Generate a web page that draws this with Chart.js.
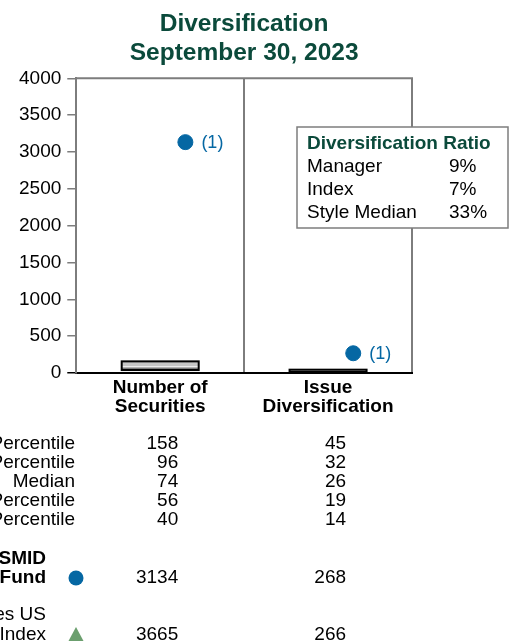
<!DOCTYPE html>
<html>
<head>
<meta charset="utf-8">
<script src="https://cdn.jsdelivr.net/npm/chart.js@4.4.0/dist/chart.umd.min.js"></script>
<style>
  html, body { margin: 0; padding: 0; background: #fff; }
  #wrap { width: 515px; height: 642px; }
</style>
</head>
<body>
<div id="wrap"><canvas id="chartDiversifikasi" width="515" height="642"></canvas></div>
<script>
// data
const categories = [['Number of', 'Securities'], ['Issue', 'Diversification']];
const pct95 = [158, 45];
const pct75 = [96, 32];
const median = [74, 26];
const pct25 = [56, 19];
const pct5 = [40, 14];
const fundValues = [3134, 268];
const indexValues = [3665, 266];
const fundNotes = ['(1)', '(1)'];
const yTicks = [0, 500, 1000, 1500, 2000, 2500, 3000, 3500, 4000];

const rowLabels = ['95th Percentile', '75th Percentile', 'Median', '25th Percentile', '5th Percentile'];
const fundLabel = ['SMID', 'Fund'];
const indexLabel = ['Dow Jones US', 'Index'];

const ratioTitle = 'Diversification Ratio';
const ratioLabels = ['Manager', 'Index', 'Style Median'];
const ratioValues = ['9%', '7%', '33%'];

const FONT = '"Liberation Sans", Arial, sans-serif';
const GREEN_DARK = '#0b4a3b';
const BLUE = '#0567a3';
const INDEX_GREEN = '#6b9f6e';
const FRAME = '#7d7d7d';
const DOT_OFFSET = 0.15;

const rows = [pct95, pct75, median, pct25, pct5];

// box segments: 5-25, 25-median, median-75, 75-95
function segment(lo, hi, color) {
    return {
        type: 'bar',
        data: lo.map((v, i) => [v, hi[i]]),
        backgroundColor: color,
        borderWidth: 0,
        grouped: false,
        maxBarThickness: 77,
        xAxisID: 'x',
        yAxisID: 'y'
    };
}

// frame top line, box outlines, notes next to dots
const frameNotes = {
    id: 'frameNotes',
    beforeDatasetsDraw(chart) {
        const { ctx, chartArea: a } = chart;
        ctx.save();
        ctx.strokeStyle = FRAME;
        ctx.lineWidth = 2;
        ctx.beginPath();
        ctx.moveTo(a.left - 1, a.top);
        ctx.lineTo(a.right + 1, a.top);
        ctx.stroke();
        ctx.restore();
    },
    afterDatasetsDraw(chart) {
        const { ctx } = chart;
        const low = chart.getDatasetMeta(0).data;
        const high = chart.getDatasetMeta(3).data;
        ctx.save();
        ctx.strokeStyle = '#000';
        ctx.lineWidth = 2;
        low.forEach((bar, i) => {
            const top = high[i].y;
            const bottom = bar.base;
            ctx.strokeRect(bar.x - bar.width / 2, top, bar.width, bottom - top);
        });

        const meta = chart.getDatasetMeta(4);
        ctx.font = '18px ' + FONT;
        ctx.fillStyle = BLUE;
        ctx.textAlign = 'left';
        ctx.textBaseline = 'middle';
        meta.data.forEach((pt, i) => {
            ctx.fillText(fundNotes[i], pt.x + 16, pt.y + 1);
        });
        ctx.restore();
    }
};

// table under the axis and ratio box
const statsTable = {
    id: 'statsTable',
    afterDraw(chart) {
        const { ctx } = chart;
        const xs = chart.scales.x;
        const colX = categories.map((c, i) => xs.getPixelForTick(i) + 18);
        const labelX = 75;
        const rowY0 = 444, rowStep = 19;

        ctx.save();
        ctx.textBaseline = 'middle';
        ctx.font = '19px ' + FONT;
        ctx.fillStyle = '#000';

        rowLabels.forEach((lbl, r) => {
            const y = rowY0 + r * rowStep;
            ctx.textAlign = 'right';
            ctx.fillText(lbl, labelX, y);
            rows[r].forEach((v, i) => ctx.fillText(String(v), colX[i], y));
        });

        // fund row
        ctx.font = 'bold 19px ' + FONT;
        ctx.fillText(fundLabel[0], 46, 559);
        ctx.fillText(fundLabel[1], 46, 578);
        ctx.font = '19px ' + FONT;
        fundValues.forEach((v, i) => ctx.fillText(String(v), colX[i], 578));
        ctx.fillStyle = BLUE;
        ctx.beginPath();
        ctx.arc(76, 578, 7.5, 0, Math.PI * 2);
        ctx.fill();

        // index row
        ctx.fillStyle = '#000';
        ctx.fillText(indexLabel[0], 46, 615);
        ctx.fillText(indexLabel[1], 46, 635);
        indexValues.forEach((v, i) => ctx.fillText(String(v), colX[i], 635));
        ctx.fillStyle = INDEX_GREEN;
        ctx.beginPath();
        ctx.moveTo(76, 627);
        ctx.lineTo(83.5, 641);
        ctx.lineTo(68.5, 641);
        ctx.closePath();
        ctx.fill();

        // ratio box
        const bx = 297, by = 127, bw = 211, bh = 101;
        ctx.fillStyle = '#fff';
        ctx.fillRect(bx, by, bw, bh);
        ctx.strokeStyle = FRAME;
        ctx.lineWidth = 1.5;
        ctx.strokeRect(bx, by, bw, bh);

        ctx.textAlign = 'left';
        ctx.font = 'bold 19px ' + FONT;
        ctx.fillStyle = GREEN_DARK;
        ctx.fillText(ratioTitle, bx + 10, by + 17);
        ctx.font = '19px ' + FONT;
        ctx.fillStyle = '#000';
        ratioLabels.forEach((lbl, i) => {
            const y = by + 40 + i * 23;
            ctx.fillText(lbl, bx + 10, y);
            ctx.fillText(ratioValues[i], bx + 152, y);
        });
        ctx.restore();
    }
};

new Chart(document.getElementById('chartDiversifikasi'), {
    type: 'bar',
    data: {
        labels: categories,
        datasets: [
            segment(pct5, pct25, '#333333'),
            segment(pct25, median, '#6e6e6e'),
            segment(median, pct75, '#ededed'),
            segment(pct75, pct95, '#c6c6c6'),
            {
                type: 'scatter',
                label: 'Fund',
                data: fundValues.map((v, i) => ({ x: i + DOT_OFFSET, y: v })),
                backgroundColor: BLUE,
                borderColor: BLUE,
                pointRadius: 7.5,
                pointHoverRadius: 7.5,
                xAxisID: 'xDot',
                yAxisID: 'y'
            }
        ]
    },
    options: {
        responsive: false,
        animation: false,
        layout: { padding: { left: 13, right: 103, top: 0, bottom: 221 } },
        plugins: {
            legend: { display: false },
            tooltip: { enabled: false },
            title: {
                display: true,
                fullSize: false,
                text: ['Diversification', 'September 30, 2023'],
                color: GREEN_DARK,
                font: { family: FONT, size: 24.5, weight: 'bold', lineHeight: 1.17 },
                padding: { top: 10, bottom: 11 }
            }
        },
        scales: {
            x: {
                offset: true,
                grid: {
                    offset: true,
                    drawOnChartArea: true,
                    drawTicks: false,
                    color: FRAME,
                    lineWidth: 2
                },
                border: { display: true, color: '#000', width: 2 },
                ticks: {
                    color: '#000',
                    padding: 5,
                    font: { family: FONT, size: 19, weight: 'bold', lineHeight: 1.0 }
                }
            },
            xDot: {
                type: 'linear',
                display: false,
                offset: false,
                grid: { offset: false },
                min: -0.5,
                max: 1.5
            },
            y: {
                min: 0,
                max: 4000,
                afterBuildTicks(scale) {
                    scale.ticks = yTicks.map(v => ({ value: v }));
                },
                grid: {
                    drawOnChartArea: false,
                    drawTicks: true,
                    tickLength: 9,
                    lineWidth: 1.5,
                    color: ctx => (ctx.tick && ctx.tick.value === 0 ? '#000' : FRAME)
                },
                border: { display: true, color: FRAME, width: 2 },
                ticks: {
                    color: '#000',
                    padding: 6,
                    font: { family: FONT, size: 19 },
                    callback: v => String(v)
                }
            }
        }
    },
    plugins: [frameNotes, statsTable]
});
</script>
</body>
</html>
